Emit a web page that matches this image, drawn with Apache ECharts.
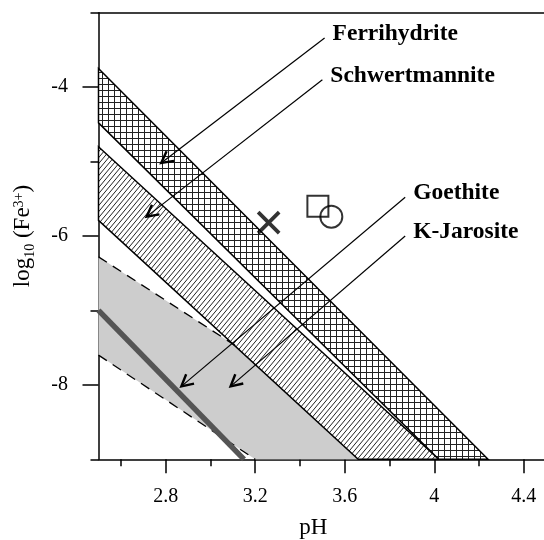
<!DOCTYPE html>
<html>
<head>
<meta charset="utf-8">
<script src="https://cdn.jsdelivr.net/npm/echarts@6.0.0/dist/echarts.min.js"></script>
<style>
    html, body { margin: 0; padding: 0; background: #fff; }
    #chart { width: 544px; height: 540px; }
</style>
</head>
<body>
<div id="chart"></div>
<script>
// axis ticks (pH / log10 Fe3+)
var xMajorTicks = [2.8, 3.2, 3.6, 4.0, 4.4];
var xMinorTicks = [2.6, 3.0, 3.4, 3.8, 4.2];
var yMajorTicks = [-4, -6, -8];
var yMinorTicks = [-3, -5, -7, -9];

// mineral fields, [pH, log10 Fe3+]
var ferrihydriteBand = [[2.5, -3.75], [4.24, -9], [4.02, -9], [2.5, -4.48]];
var schwertmanniteBand = [[2.5, -4.8], [4.02, -9], [3.66, -9], [2.5, -5.79]];
var jarositeField = [[2.5, -6.28], [3.11, -7.47], [3.66, -9], [3.2, -9], [2.5, -7.6]];
var jarositeUpper = [[2.5, -6.28], [3.11, -7.47]];
var jarositeLower = [[2.5, -7.6], [3.2, -9]];
var goethiteLine = [[2.5, -7.0], [3.15, -9]];

// measured samples
var crossPoints = [[3.26, -5.82]];
var squarePoints = [[3.48, -5.6]];
var circlePoints = [[3.54, -5.74]];

// annotations
var labelNames = ['Ferrihydrite', 'Schwertmannite', 'Goethite', 'K-Jarosite'];
var arrowFrom = [[3.51, -3.34], [3.5, -3.9], [3.87, -5.48], [3.87, -6.0]];
var arrowTo = [[2.78, -5.02], [2.715, -5.74], [2.87, -8.02], [3.09, -8.02]];

var serif = '"Liberation Serif", "Times New Roman", serif';

function makePattern(kind) {
    var c = document.createElement('canvas');
    var w = kind == 'cross' ? 6 : 5;
    var h = 6;
    c.width = w;
    c.height = h;
    var ctx = c.getContext('2d');
    ctx.fillStyle = '#fff';
    ctx.fillRect(0, 0, w, h);
    ctx.strokeStyle = '#222';
    ctx.lineWidth = 1;
    ctx.beginPath();
    if (kind == 'cross') {
        ctx.moveTo(0.5, 0); ctx.lineTo(0.5, h);
        ctx.moveTo(0, 0.5); ctx.lineTo(w, 0.5);
    } else {
        for (var k = -1; k <= 1; k++) {
            ctx.moveTo(k * w, h);
            ctx.lineTo(k * w + w, 0);
        }
    }
    ctx.stroke();
    return { image: c, repeat: 'repeat' };
}

function polygonSeries(points, fill, stroke) {
    return {
        type: 'custom',
        silent: true,
        data: [0],
        renderItem: function (params, api) {
            return {
                type: 'polygon',
                shape: { points: points.map(function (p) { return api.coord(p); }) },
                style: { fill: fill, stroke: stroke || null, lineWidth: 1.5 }
            };
        }
    };
}

function lineSeries(points, color, width, type) {
    return {
        type: 'line',
        silent: true,
        data: points,
        symbol: 'none',
        lineStyle: { color: color, width: width, type: type || 'solid' }
    };
}

var myChart = echarts.init(document.getElementById('chart'));

var axisStyle = { color: '#000', width: 1.5 };

var option = {
    animation: false,
    backgroundColor: '#fff',
    grid: { left: 98.5, right: 0, top: 12.7, bottom: 80.7, containLabel: false, outerBoundsMode: 'none' },
    xAxis: [{
        type: 'value', min: 2.5, max: 4.49, position: 'bottom',
        axisLine: { show: true, onZero: false, lineStyle: axisStyle },
        axisTick: { show: true, customValues: xMajorTicks, length: 14, lineStyle: axisStyle },
        axisLabel: {
            customValues: xMajorTicks, margin: 27, color: '#000',
            fontFamily: serif, fontSize: 20,
            formatter: function (v) { return String(+v.toFixed(1)); }
        },
        splitLine: { show: false },
        name: 'pH', nameLocation: 'middle', nameGap: 57,
        nameTextStyle: { color: '#000', fontFamily: serif, fontSize: 23, padding: [0, 16, 0, 0] }
    }, {
        type: 'value', min: 2.5, max: 4.49, position: 'bottom',
        axisLine: { show: false },
        axisTick: { show: true, customValues: xMinorTicks, length: 7, lineStyle: axisStyle },
        axisLabel: { show: false },
        splitLine: { show: false }
    }, {
        type: 'value', min: 2.5, max: 4.49, position: 'top',
        axisLine: { show: true, onZero: false, lineStyle: axisStyle },
        axisTick: { show: false },
        axisLabel: { show: false },
        splitLine: { show: false }
    }],
    yAxis: [{
        type: 'value', min: -9, max: -3, position: 'left',
        axisLine: { show: true, onZero: false, lineStyle: axisStyle },
        axisTick: { show: true, customValues: yMajorTicks, length: 16, lineStyle: axisStyle },
        axisLabel: {
            customValues: yMajorTicks, margin: 30.5, color: '#000',
            fontFamily: serif, fontSize: 20
        },
        splitLine: { show: false },
        name: '{a|log}{sub|10}{a| (Fe}{sup|3+}{a|)}',
        nameLocation: 'middle', nameRotate: 90, nameGap: 61,
        nameTextStyle: {
            color: '#000',
            rich: {
                a: { fontFamily: serif, fontSize: 23, lineHeight: 30, verticalAlign: 'middle', color: '#000' },
                sub: { fontFamily: serif, fontSize: 14, lineHeight: 14, verticalAlign: 'bottom', color: '#000' },
                sup: { fontFamily: serif, fontSize: 14, lineHeight: 14, verticalAlign: 'bottom', padding: [0, 0, 11, 0], color: '#000' }
            }
        }
    }, {
        type: 'value', min: -9, max: -3, position: 'left',
        axisLine: { show: false },
        axisTick: { show: true, customValues: yMinorTicks, length: 8, lineStyle: axisStyle },
        axisLabel: { show: false },
        splitLine: { show: false }
    }],
    series: [
        polygonSeries(jarositeField, '#cdcdcd'),
        lineSeries(jarositeUpper, '#000', 1.3, [10, 7]),
        lineSeries(jarositeLower, '#000', 1.3, [10, 7]),
        lineSeries(goethiteLine, '#555', 5.5),
        polygonSeries(schwertmanniteBand, makePattern('diag'), '#000'),
        polygonSeries(ferrihydriteBand, makePattern('cross'), '#000'),
        {
            type: 'scatter', silent: true, data: crossPoints,
            symbol: 'path://M0,0L10,10M10,0L0,10', symbolSize: 21,
            itemStyle: { color: 'rgba(0,0,0,0)', borderColor: '#000', borderWidth: 3.8 }
        },
        {
            type: 'scatter', silent: true, data: squarePoints,
            symbol: 'rect', symbolSize: 21,
            itemStyle: { color: 'rgba(0,0,0,0)', borderColor: '#000', borderWidth: 2 }
        },
        {
            type: 'scatter', silent: true, data: circlePoints,
            symbol: 'circle', symbolSize: 22,
            itemStyle: { color: 'rgba(0,0,0,0)', borderColor: '#000', borderWidth: 2 }
        },
        {
            // label + arrow to each field
            type: 'custom', silent: true,
            data: labelNames.map(function (n, i) {
                return [arrowFrom[i][0], arrowFrom[i][1], arrowTo[i][0], arrowTo[i][1]];
            }),
            renderItem: function (params, api) {
                var p1 = api.coord([api.value(0), api.value(1)]);
                var p2 = api.coord([api.value(2), api.value(3)]);
                var dx = p1[0] - p2[0], dy = p1[1] - p2[1];
                var len = Math.sqrt(dx * dx + dy * dy);
                var ux = dx / len, uy = dy / len;
                var a = 28 * Math.PI / 180, L = 13;
                var arm = function (s) {
                    var ca = Math.cos(a), sa = Math.sin(a) * s;
                    return [p2[0] + L * (ux * ca - uy * sa), p2[1] + L * (uy * ca + ux * sa)];
                };
                return {
                    type: 'group',
                    children: [{
                        type: 'line',
                        shape: { x1: p1[0], y1: p1[1], x2: p2[0], y2: p2[1] },
                        style: { stroke: '#000', lineWidth: 1.2 }
                    }, {
                        type: 'polyline',
                        shape: { points: [arm(1), p2, arm(-1)] },
                        style: { stroke: '#000', lineWidth: 2.4, fill: null }
                    }, {
                        type: 'text',
                        x: p1[0] + 8, y: p1[1] - 4,
                        style: {
                            text: labelNames[params.dataIndex],
                            fill: '#000', fontFamily: serif, fontSize: 23.5, fontWeight: 'bold',
                            align: 'left', verticalAlign: 'middle'
                        }
                    }]
                };
            }
        }
    ]
};

myChart.setOption(option);
</script>
</body>
</html>
